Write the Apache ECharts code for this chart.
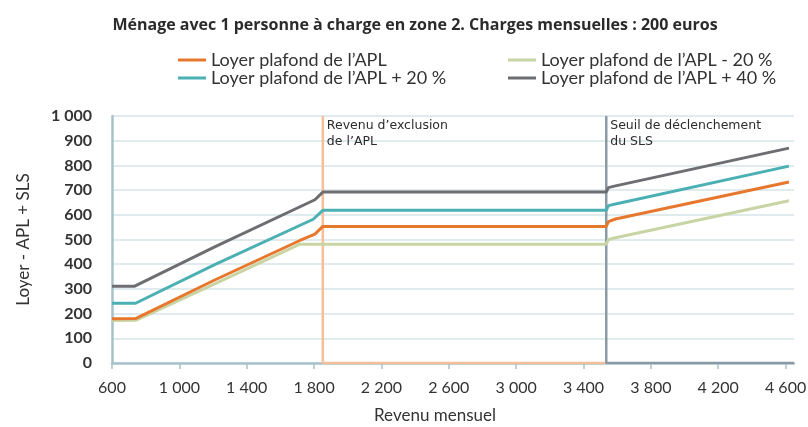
<!DOCTYPE html>
<html>
<head>
<meta charset="utf-8">
<script src="https://cdn.jsdelivr.net/npm/echarts@6/dist/echarts.min.js"></script>
<style>
  html, body { margin: 0; padding: 0; background: #fff; }
  #chart { width: 808px; height: 427px; }
</style>
</head>
<body>
<div id="chart"></div>
<script>
// Monthly income (x) vs rent ceiling (y)
var titleText = 'Ménage avec 1 personne à charge en zone 2. Charges mensuelles : 200 euros';
var seriesNames = [
    'Loyer plafond de l’APL',
    'Loyer plafond de l’APL + 20 %',
    'Loyer plafond de l’APL - 20 %',
    'Loyer plafond de l’APL + 40 %'
];
var aplBase = [[600, 179], [740, 180], [1210, 336], [1716, 496], [1805, 522], [1852, 553], [3535, 553], [3548, 572], [3590, 583], [4620, 733]];
var aplPlus20 = [[600, 242], [740, 242], [1210, 398], [1795, 582], [1852, 618], [3535, 618], [3548, 637], [3590, 644], [4620, 797]];
var aplMinus20 = [[600, 172], [740, 173], [1210, 320], [1716, 481], [3535, 481], [3548, 500], [3590, 507], [4620, 657]];
var aplPlus40 = [[600, 311], [735, 311], [1210, 470], [1805, 661], [1852, 692], [3535, 692], [3548, 710], [3590, 717], [4620, 870]];
var exclusionIncome = 1852;
var slsIncome = 3535;
var xTicks = [600, 1000, 1400, 1800, 2200, 2600, 3000, 3400, 3800, 4200, 4600];

var colors = {
    base: '#e8772e',
    plus20: '#4bb0b3',
    minus20: '#c9d4a4',
    plus40: '#6d6e71',
    exclusion: '#f6bf97',
    sls: '#8a9aa4',
    grid: '#d6e4e8',
    axis: '#a8c2ca',
    text: '#333333'
};

function fmtThousands(v) {
    return String(v).replace(/\B(?=(\d{3})+(?!\d))/g, ' ');
}

function lineSeries(name, data, color) {
    return {
        name: name,
        type: 'line',
        data: data,
        showSymbol: false,
        z: 3,
        lineStyle: { color: color, width: 3 },
        itemStyle: { color: color }
    };
}

function markerSeries(id, x, xEnd, color) {
    return {
        id: id,
        type: 'line',
        data: [[x, 1000], [x, 0], [xEnd, 0]],
        showSymbol: false,
        silent: true,
        z: 2,
        lineStyle: { color: color, width: 2.5 }
    };
}

var legendText = { color: colors.text, fontFamily: 'Lato', fontSize: 18, lineHeight: 18 };

var options = {
    animation: false,
    title: {
        text: titleText,
        left: 410,
        top: 12,
        textAlign: 'center',
        textStyle: { fontFamily: 'Open Sans', fontWeight: 'bold', fontSize: 16, color: '#2b2b2b' }
    },
    legend: [
        {
            data: [seriesNames[0], seriesNames[1]],
            orient: 'vertical',
            left: 178,
            top: 51,
            padding: 0,
            itemGap: 0,
            itemWidth: 28,
            itemHeight: 3,
            icon: 'rect',
            textStyle: legendText
        },
        {
            data: [seriesNames[2], seriesNames[3]],
            orient: 'vertical',
            left: 508,
            top: 51,
            padding: 0,
            itemGap: 0,
            itemWidth: 28,
            itemHeight: 3,
            icon: 'rect',
            textStyle: legendText
        }
    ],
    grid: { left: 112, right: 14, top: 116, bottom: 64, outerBoundsMode: 'none' },
    xAxis: {
        type: 'value',
        min: 600,
        max: 4650,
        name: 'Revenu mensuel',
        nameLocation: 'middle',
        nameGap: 44,
        nameTextStyle: { fontFamily: 'Lato', fontSize: 17, color: colors.text, padding: [0, 36, 0, 0] },
        axisLine: { lineStyle: { color: colors.axis, width: 2.5 } },
        axisTick: { show: true, length: 6, customValues: xTicks, lineStyle: { color: colors.axis, width: 1.5 } },
        axisLabel: {
            customValues: xTicks,
            margin: 17,
            fontFamily: 'Lato',
            fontSize: 16,
            color: colors.text,
            formatter: fmtThousands
        },
        splitLine: { show: false }
    },
    yAxis: {
        type: 'value',
        min: 0,
        max: 1000,
        interval: 100,
        name: 'Loyer - APL + SLS',
        nameLocation: 'middle',
        nameGap: 80,
        nameRotate: 90,
        nameTextStyle: { fontFamily: 'Lato', fontSize: 17, color: colors.text },
        axisLine: { show: true, lineStyle: { color: colors.axis, width: 2.5 } },
        axisTick: { show: false },
        axisLabel: {
            margin: 20,
            fontFamily: 'Lato',
            fontWeight: 'bold',
            fontSize: 16,
            color: colors.text,
            formatter: fmtThousands
        },
        splitLine: { lineStyle: { color: colors.grid, width: 1.5 } }
    },
    series: [
        markerSeries('exclusion', exclusionIncome, slsIncome, colors.exclusion),
        markerSeries('sls', slsIncome, 4650, colors.sls),
        lineSeries(seriesNames[2], aplMinus20, colors.minus20),
        lineSeries(seriesNames[0], aplBase, colors.base),
        lineSeries(seriesNames[1], aplPlus20, colors.plus20),
        lineSeries(seriesNames[3], aplPlus40, colors.plus40)
    ]
};

var chart = echarts.init(document.getElementById('chart'));
chart.setOption(options);

// Annotations placed next to the two vertical markers
function noteAt(x, text) {
    var p = chart.convertToPixel({ gridIndex: 0 }, [x, 1000]);
    return {
        type: 'text',
        x: p[0] + 4,
        y: p[1] + 2,
        style: {
            text: text,
            fill: '#2b2b2b',
            font: '12.5px "DejaVu Sans"',
            lineHeight: 16,
            textAlign: 'left',
            textVerticalAlign: 'top'
        },
        z: 10
    };
}

chart.setOption({
    graphic: [
        noteAt(exclusionIncome, 'Revenu d’exclusion\nde l’APL'),
        noteAt(slsIncome, 'Seuil de déclenchement\ndu SLS')
    ]
});
</script>
</body>
</html>
